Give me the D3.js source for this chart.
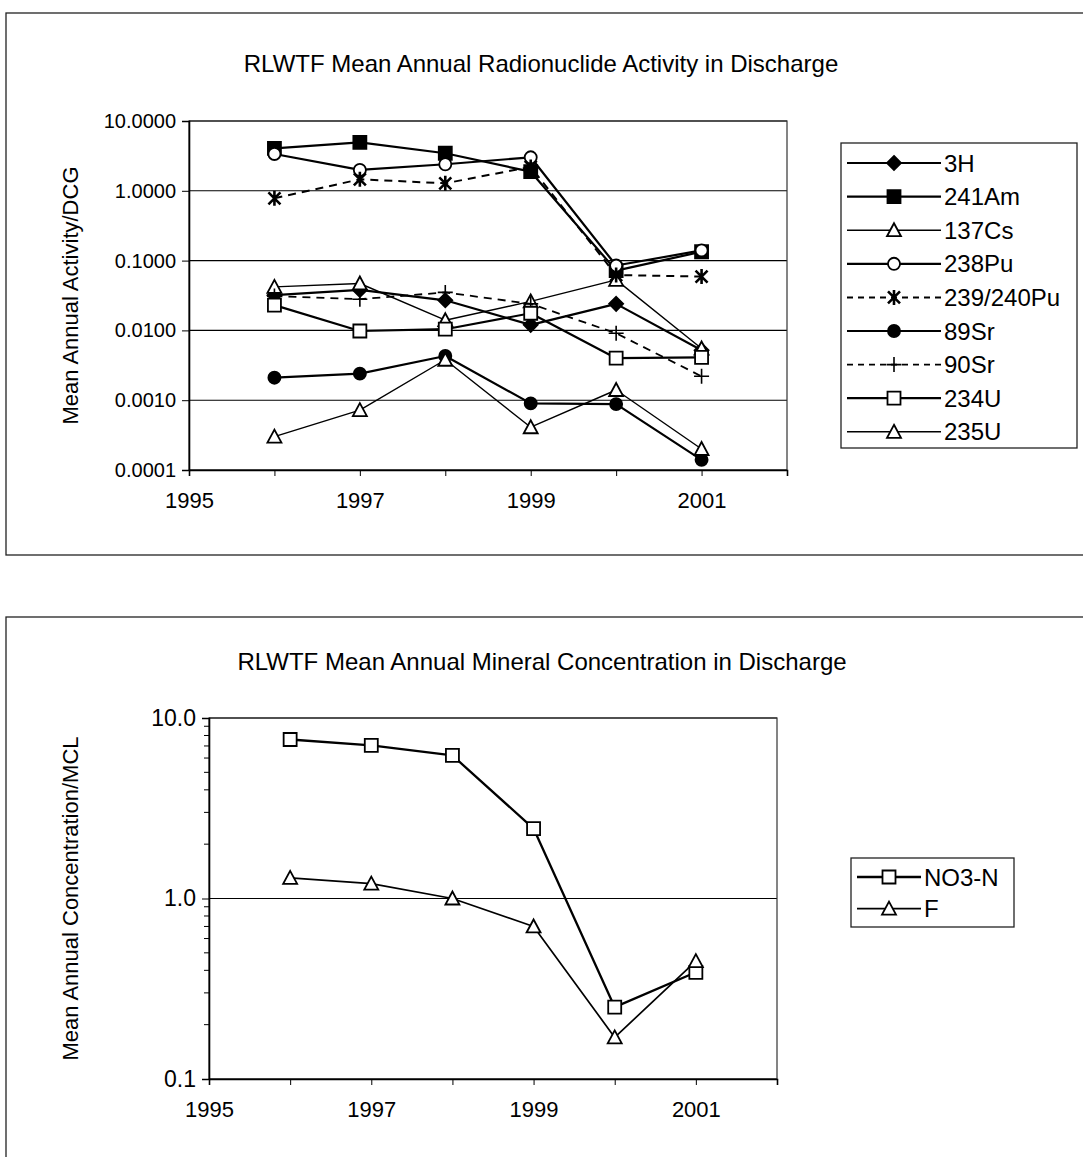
<!DOCTYPE html>
<html>
<head>
<meta charset="utf-8">
<script src="https://cdn.jsdelivr.net/npm/d3@7"></script>
<style>
  html,body{margin:0;padding:0;background:#fff;}
  svg{display:block;font-family:"Liberation Sans",Arial,sans-serif;}
</style>
</head>
<body>
<svg id="chart" width="1083" height="1157"></svg>
<script>
// ---- data ----
const years = [1996, 1997, 1998, 1999, 2000, 2001];
const yearTicks = [1995, 1996, 1997, 1998, 1999, 2000, 2001, 2002];
const yearLabels = [1995, 1997, 1999, 2001];

const radioNames = ["3H", "241Am", "137Cs", "238Pu", "239/240Pu", "89Sr", "90Sr", "234U", "235U"];
const h3    = [0.032, 0.038, 0.027, 0.012, 0.024, 0.0052];
const am241 = [4.06, 4.95, 3.45, 1.88, 0.072, 0.134];
const cs137 = [0.042, 0.047, 0.014, 0.026, 0.053, 0.0055];
const pu238 = [3.37, 1.99, 2.40, 3.02, 0.085, 0.14];
const pu239 = [0.78, 1.46, 1.28, 2.2, 0.062, 0.059];
const sr89  = [0.0021, 0.0024, 0.0043, 0.0009, 0.00088, 0.00014];
const sr90  = [0.031, 0.028, 0.035, 0.024, 0.0091, 0.0022];
const u234  = [0.023, 0.0098, 0.0104, 0.0176, 0.0040, 0.0041];
const u235  = [0.0003, 0.00072, 0.0038, 0.00041, 0.0014, 0.0002];
const radioTicks = [10, 1, 0.1, 0.01, 0.001, 0.0001];

const mineralNames = ["NO3-N", "F"];
const no3 = [7.6, 7.05, 6.2, 2.44, 0.25, 0.39];
const fl  = [1.30, 1.21, 1.0, 0.70, 0.17, 0.45];
const mineralTicks = [10, 1, 0.1];

(() => {
  "use strict";

  const svg = d3.select("#chart");

  // marker shapes, centred on 0,0
  const SHAPES = {
    diamond: "M0,-7L7,0L0,7L-7,0Z",
    square: "M-6.5,-6.5H6.5V6.5H-6.5Z",
    triangle: "M0,-7L7,6L-7,6Z",
    circle: d3.symbol(d3.symbolCircle, 115)(),
    asterisk: "M-6,-6L6,6M-6,6L6,-6M0,-7.5V7.5",
    plus: "M-7.5,0H7.5M0,-7.5V7.5"
  };

  const STYLES = {
    "3H":        { shape:"diamond",  fill:"#000", lw:2.2 },
    "241Am":     { shape:"square",   fill:"#000", lw:2.2 },
    "137Cs":     { shape:"triangle", fill:"#fff", lw:1.4 },
    "238Pu":     { shape:"circle",   fill:"#fff", lw:2.2 },
    "239/240Pu": { shape:"asterisk", fill:"none", lw:2, dash:"8,6", mw:2.6 },
    "89Sr":      { shape:"circle",   fill:"#000", lw:2.2 },
    "90Sr":      { shape:"plus",     fill:"none", lw:1.8, dash:"8,6", mw:1.6 },
    "234U":      { shape:"square",   fill:"#fff", lw:2.2 },
    "235U":      { shape:"triangle", fill:"#fff", lw:1.4 },
    "NO3-N":     { shape:"square",   fill:"#fff", lw:2.3 },
    "F":         { shape:"triangle", fill:"#fff", lw:1.7 }
  };

  function marker(g, name, x, y){
    const st = STYLES[name];
    g.append("path")
      .attr("d", SHAPES[st.shape])
      .attr("transform", `translate(${x},${y})`)
      .attr("fill", st.fill)
      .attr("stroke", "#000")
      .attr("stroke-width", st.mw || 1.8);
  }

  function drawChart(cfg){
    const { frame, plot, title, titleX, titleY, yLabel, yLabelX, ticks, fmt, yFont, minor, series, legend } = cfg;

    // outer chart frame
    svg.append("rect")
      .attr("x", frame.x).attr("y", frame.y)
      .attr("width", frame.w).attr("height", frame.h)
      .attr("fill", "none").attr("stroke", "#222").attr("stroke-width", 1.3);

    svg.append("text")
      .attr("x", titleX).attr("y", titleY)
      .attr("text-anchor", "middle").attr("font-size", 24)
      .text(title);

    const x = d3.scaleLinear().domain([1995, 2002]).range([plot.x0, plot.x1]);
    const y = d3.scaleLog().domain([ticks[ticks.length - 1], ticks[0]]).range([plot.y1, plot.y0]);

    const g = svg.append("g");

    // gridlines at the decades
    g.selectAll("line.grid").data(ticks).enter().append("line")
      .attr("x1", plot.x0).attr("x2", plot.x1)
      .attr("y1", d => y(d)).attr("y2", d => y(d))
      .attr("stroke", "#000").attr("stroke-width", 1.1);

    // plot area border
    g.append("rect")
      .attr("x", plot.x0).attr("y", plot.y0)
      .attr("width", plot.x1 - plot.x0).attr("height", plot.y1 - plot.y0)
      .attr("fill", "none").attr("stroke", "#333").attr("stroke-width", 1.2);

    // y axis
    const yAxis = d3.axisLeft(y).tickValues(ticks).tickFormat(d3.format(fmt)).tickSizeOuter(0).tickSize(7).tickPadding(6);
    const ya = g.append("g").attr("transform", `translate(${plot.x0},0)`).call(yAxis);
    ya.select(".domain").attr("stroke-width", 1.6);
    ya.selectAll("text").attr("font-size", yFont).attr("font-family", "Liberation Sans, Arial, sans-serif").attr("fill", "#000");

    if (minor){
      const mv = [];
      for (let e = Math.log10(ticks[ticks.length - 1]); e < Math.log10(ticks[0]); e++){
        for (let k = 2; k <= 9; k++) mv.push(k * Math.pow(10, e));
      }
      g.selectAll("line.minor").data(mv).enter().append("line")
        .attr("x1", plot.x0 - 5).attr("x2", plot.x0)
        .attr("y1", d => y(d)).attr("y2", d => y(d))
        .attr("stroke", "#000").attr("stroke-width", 1);
    }

    // x axis: ticks every year, labels every other year
    const xAxis = d3.axisBottom(x).tickValues(yearTicks)
      .tickFormat(d => yearLabels.includes(d) ? String(d) : "")
      .tickSizeOuter(0).tickSize(6).tickPadding(16);
    const xa = g.append("g").attr("transform", `translate(0,${plot.y1})`).call(xAxis);
    xa.select(".domain").attr("stroke-width", 1.6);
    xa.selectAll("text").attr("font-size", 22).attr("font-family", "Liberation Sans, Arial, sans-serif").attr("fill", "#000");

    // y axis title
    svg.append("text")
      .attr("transform", `translate(${yLabelX},${(plot.y0 + plot.y1) / 2}) rotate(-90)`)
      .attr("text-anchor", "middle").attr("font-size", 22)
      .text(yLabel);

    // series
    const line = d3.line().x(d => x(d[0])).y(d => y(d[1]));
    series.forEach(s => {
      const st = STYLES[s.name];
      const pts = years.map((yr, i) => [yr, s.values[i]]);
      g.append("path")
        .attr("d", line(pts))
        .attr("fill", "none").attr("stroke", "#000")
        .attr("stroke-width", st.lw)
        .attr("stroke-dasharray", st.dash || null)
        .attr("stroke-linejoin", "round");
      pts.forEach(p => marker(g, s.name, x(p[0]), y(p[1])));
    });

    // legend
    const lg = svg.append("g");
    lg.append("rect")
      .attr("x", legend.x).attr("y", legend.y)
      .attr("width", legend.w).attr("height", legend.h)
      .attr("fill", "#fff").attr("stroke", "#222").attr("stroke-width", 1.3);
    series.forEach((s, i) => {
      const st = STYLES[s.name];
      const cy = legend.y + legend.first + i * legend.step;
      lg.append("line")
        .attr("x1", legend.x + 6).attr("x2", legend.x + legend.lineW)
        .attr("y1", cy).attr("y2", cy)
        .attr("stroke", "#000").attr("stroke-width", st.lw)
        .attr("stroke-dasharray", st.dash ? "6,5" : null);
      marker(lg, s.name, legend.x + 6 + (legend.lineW - 6) / 2, cy);
      lg.append("text")
        .attr("x", legend.x + legend.lineW + 3).attr("y", cy)
        .attr("dy", "0.36em").attr("font-size", 24)
        .text(s.name);
    });
  }

  const radioVals = [h3, am241, cs137, pu238, pu239, sr89, sr90, u234, u235];
  drawChart({
    frame: { x: 6, y: 13, w: 1090, h: 542 },
    plot: { x0: 189, x1: 787, y0: 121, y1: 470 },
    title: "RLWTF Mean Annual Radionuclide Activity in Discharge",
    titleX: 541, titleY: 72,
    yLabel: "Mean Annual Activity/DCG",
    yLabelX: 78,
    ticks: radioTicks,
    fmt: ".4f",
    yFont: 20,
    minor: false,
    series: radioNames.map((n, i) => ({ name: n, values: radioVals[i] })),
    legend: { x: 841, y: 143, w: 236, h: 305, first: 20, step: 33.6, lineW: 100 }
  });

  const minVals = [no3, fl];
  drawChart({
    frame: { x: 6, y: 617, w: 1090, h: 560 },
    plot: { x0: 209, x1: 777, y0: 718, y1: 1079 },
    title: "RLWTF Mean Annual Mineral Concentration in Discharge",
    titleX: 542, titleY: 670,
    yLabel: "Mean Annual Concentration/MCL",
    yLabelX: 78,
    ticks: mineralTicks,
    fmt: ".1f",
    yFont: 23,
    minor: true,
    series: mineralNames.map((n, i) => ({ name: n, values: minVals[i] })),
    legend: { x: 851, y: 858, w: 163, h: 69, first: 19, step: 31.6, lineW: 70 }
  });
})();
</script>
</body>
</html>
